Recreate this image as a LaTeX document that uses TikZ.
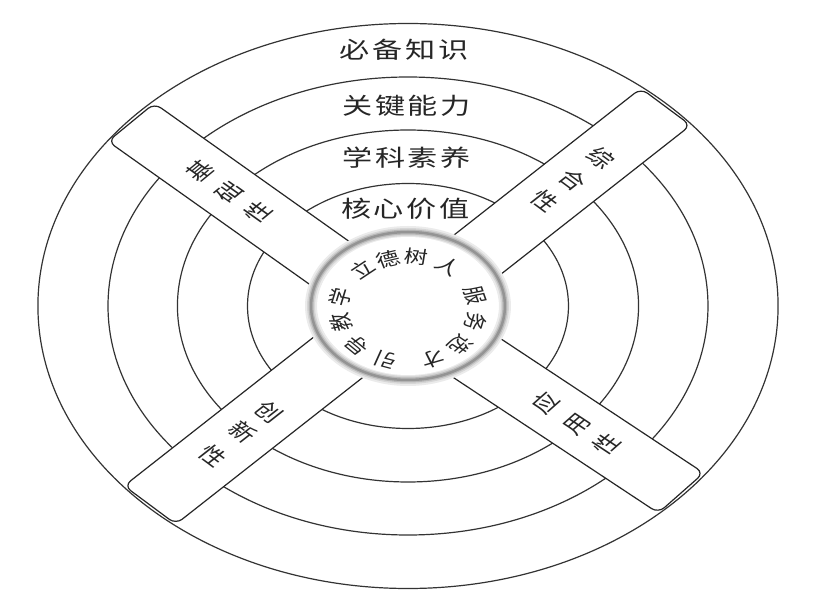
\documentclass[tikz,border=0pt]{standalone}
\usepackage{fontspec}
\newfontfamily\cjk{Noto Sans CJK SC}
\begin{document}
\begin{tikzpicture}[x=1pt,y=1pt,xscale=1.31,transform shape,
  ring/.style={line width=1.2pt, draw=black!80},
  bandbox/.style={draw=black!85, line width=1.2pt, fill=white, rounded corners=8pt},
  ringlabel/.style={font=\cjk\fontsize{23}{23}\selectfont, inner sep=0pt, text=black!85},
  bandlabel/.style={font=\cjk\fontsize{20}{20}\selectfont, inner sep=0pt, text=black!85},
  corelabel/.style={font=\cjk\fontsize{18}{18}\selectfont, inner sep=0pt, text=black!85}]
\useasboundingbox (-311.45,-301) rectangle (322.14,306);
\fill[white] (-311.45,-301) rectangle (322.14,306);
% rings
\foreach \r in {282.5,229,176,122.5} \draw[ring] (0,0) circle (\r);
% bands
\foreach \n/\a/\d/\h in {1/139/137.1/26, 2/45.35/45.8/26.5, 3/225.3/225.8/27.5, 4/-41.9/-40.9/26.5} {
  \begin{scope}[shift={(\a:280)}, rotate=\d+180]
    \draw[bandbox] (225,-\h) -- (0,-\h) -- (0,\h) -- (225,\h) -- cycle;
  \end{scope}
}
% central disc with soft grey rim
\fill[white] (0,0) circle (78);
\draw[line width=12pt, black!8] (0,0) circle (74);
\draw[line width=8pt, black!16] (0,0) circle (74);
\draw[line width=5pt, black!28] (0,0) circle (74);
\draw[line width=2.5pt, black!42] (0,0) circle (74);
\fill[white] (0,0) circle (69);
% ring labels
\node[ringlabel] (k1) at (-3,256) {必\hspace{2pt}备\hspace{2pt}知\hspace{2pt}识};
\node[ringlabel] (k2) at (-1,200) {关\hspace{2pt}键\hspace{2pt}能\hspace{2pt}力};
\node[ringlabel] (k3) at (-1,148) {学\hspace{2pt}科\hspace{2pt}素\hspace{2pt}养};
\node[ringlabel] (k4) at (-2,97) {核\hspace{2pt}心\hspace{2pt}价\hspace{2pt}值};
% band labels
\path (139:280) ++(-42.9:72) node[bandlabel, rotate=47.1] (j1) {基};
\path (139:280) ++(-42.9:102) node[bandlabel, rotate=47.1] (j2) {础};
\path (139:280) ++(-42.9:132) node[bandlabel, rotate=47.1] (j3) {性};
\path (45.35:280) ++(225.8:71) node[bandlabel, rotate=-44.2] (z1) {综};
\path (45.35:280) ++(225.8:102) node[bandlabel, rotate=-44.2] (z2) {合};
\path (45.35:280) ++(225.8:132) node[bandlabel, rotate=-44.2] (z3) {性};
\path (225.3:280) ++(45.8:130) node[bandlabel, rotate=-44.2] (x1) {创};
\path (225.3:280) ++(45.8:102) node[bandlabel, rotate=-44.2] (x2) {新};
\path (225.3:280) ++(45.8:69) node[bandlabel, rotate=-44.2] (x3) {性};
\path (-41.9:280) ++(139.1:137) node[bandlabel, rotate=49.1] (y1) {应};
\path (-41.9:280) ++(139.1:105) node[bandlabel, rotate=49.1] (y2) {用};
\path (-41.9:280) ++(139.1:75) node[bandlabel, rotate=49.1] (y3) {性};
% core circular text
\foreach \ch/\t [count=\i] in {引/251, 导/223, 教/194, 学/167, 立/131, 德/107, 树/83, 人/54, 服/15, 务/-13, 选/-41, 才/-69} {
  \path (0,-3.5) ++(\t:53) node[corelabel, rotate=\t-90] (c\i) {\ch};
}
\end{tikzpicture}
\end{document}
